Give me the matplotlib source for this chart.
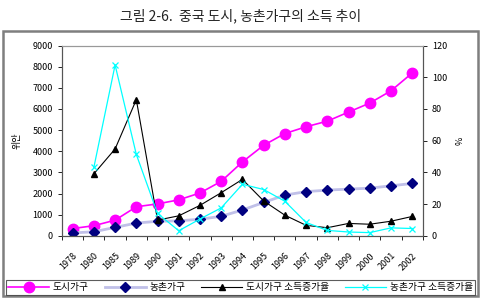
import matplotlib
matplotlib.use('Agg')
import matplotlib.pyplot as plt
import matplotlib.transforms as mtransforms
from matplotlib.patches import Rectangle
import numpy as np

plt.rcParams['font.family'] = ['Noto Sans CJK KR', 'DejaVu Sans']

# === DATA ===
years = ['1978', '1980', '1985', '1989', '1990', '1991', '1992', '1993', '1994',
         '1995', '1996', '1997', '1998', '1999', '2000', '2001', '2002']
urban_income = [343, 478, 739, 1374, 1510, 1701, 2027, 2577, 3496,
                4283, 4839, 5160, 5425, 5854, 6280, 6860, 7703]
rural_income = [134, 191, 398, 602, 686, 709, 784, 922, 1221,
                1578, 1926, 2090, 2162, 2210, 2253, 2366, 2476]
# growth rates (%) start from 1980
urban_growth = [39.1, 54.8, 85.9, 9.9, 12.6, 19.2, 27.2, 35.6,
                22.0, 13.0, 6.6, 5.1, 7.8, 7.3, 9.2, 12.2]
rural_growth = [43.2, 107.8, 51.3, 14.1, 3.2, 10.6, 17.6, 32.5,
                29.2, 21.8, 8.4, 3.4, 2.4, 2.0, 5.0, 4.6]

x = np.arange(len(years))
xg = x[1:]

fig = plt.figure(figsize=(4.81, 3.0), dpi=100)
ax = fig.add_axes([0.129, 0.214, 0.750, 0.634])
ax2 = ax.twinx()

# outer frame
fig.patches.append(Rectangle((0.006, 0.012), 0.988, 0.885, transform=fig.transFigure,
                             fill=False, edgecolor='#7f7f7f', linewidth=1.8))
fig.text(0.5, 0.948, '그림 2-6.  중국 도시, 농촌가구의 소득 추이', ha='center', va='center',
         fontsize=10, color='#222222')

l1, = ax.plot(x, urban_income, color='#ff00ff', marker='o', markersize=7.5, linewidth=1.2,
              markeredgecolor='#ff00ff', label='도시가구')
l2, = ax.plot(x, rural_income, color='#c0c0e8', marker='D', markersize=5.5, linewidth=2,
              markerfacecolor='#000080', markeredgecolor='#000080', label='농촌가구')
l3, = ax2.plot(xg, urban_growth, color='black', marker='^', markersize=4, linewidth=0.8,
               label='도시가구 소득증가율')
l4, = ax2.plot(xg, rural_growth, color='#00ffff', marker='x', markersize=4, linewidth=0.9,
               markeredgewidth=0.9, label='농촌가구 소득증가율')

ax.set_xlim(-0.5, len(years) - 0.5)
ax.set_ylim(0, 9000)
ax2.set_ylim(0, 120)
ax.set_yticks(np.arange(0, 9001, 1000))
ax2.set_yticks(np.arange(0, 121, 20))

ax.set_xticks(x)
ax.set_xticklabels(years, rotation=45, ha='right', va='top', rotation_mode='anchor', fontsize=6.5)
shift = mtransforms.ScaledTranslation(-9 / 100, 0, fig.dpi_scale_trans)
for lab in ax.get_xticklabels():
    lab.set_transform(lab.get_transform() + shift)
ax.set_xticks(np.arange(-0.5, len(years), 1), minor=True)
ax.tick_params(axis='x', which='major', length=0, pad=11)
ax.tick_params(axis='x', which='minor', length=3, direction='out', width=0.6)
ax.tick_params(axis='y', labelsize=6.5, length=3, width=0.6)
ax2.tick_params(axis='y', labelsize=6.5, length=3, width=0.6)

for a in (ax, ax2):
    for s in a.spines.values():
        s.set_color('#555555')
        s.set_linewidth(0.8)
    a.spines['top'].set_color('#999999')

ax.set_ylabel('위안', fontsize=6.5, labelpad=8)
ax2.set_ylabel('%', fontsize=6.5, labelpad=6)

leg = fig.legend(handles=[l1, l2, l3, l4], loc='lower left',
                 bbox_to_anchor=(0.012, 0.018, 0.976, 0.055), mode='expand',
                 ncol=4, fontsize=7, frameon=True, fancybox=False, edgecolor='#333333',
                 handlelength=4.2, columnspacing=0.8, handletextpad=0.4, borderpad=0.25,
                 borderaxespad=0)
leg.get_frame().set_linewidth(0.8)

fig.savefig('out.png', dpi=100)
